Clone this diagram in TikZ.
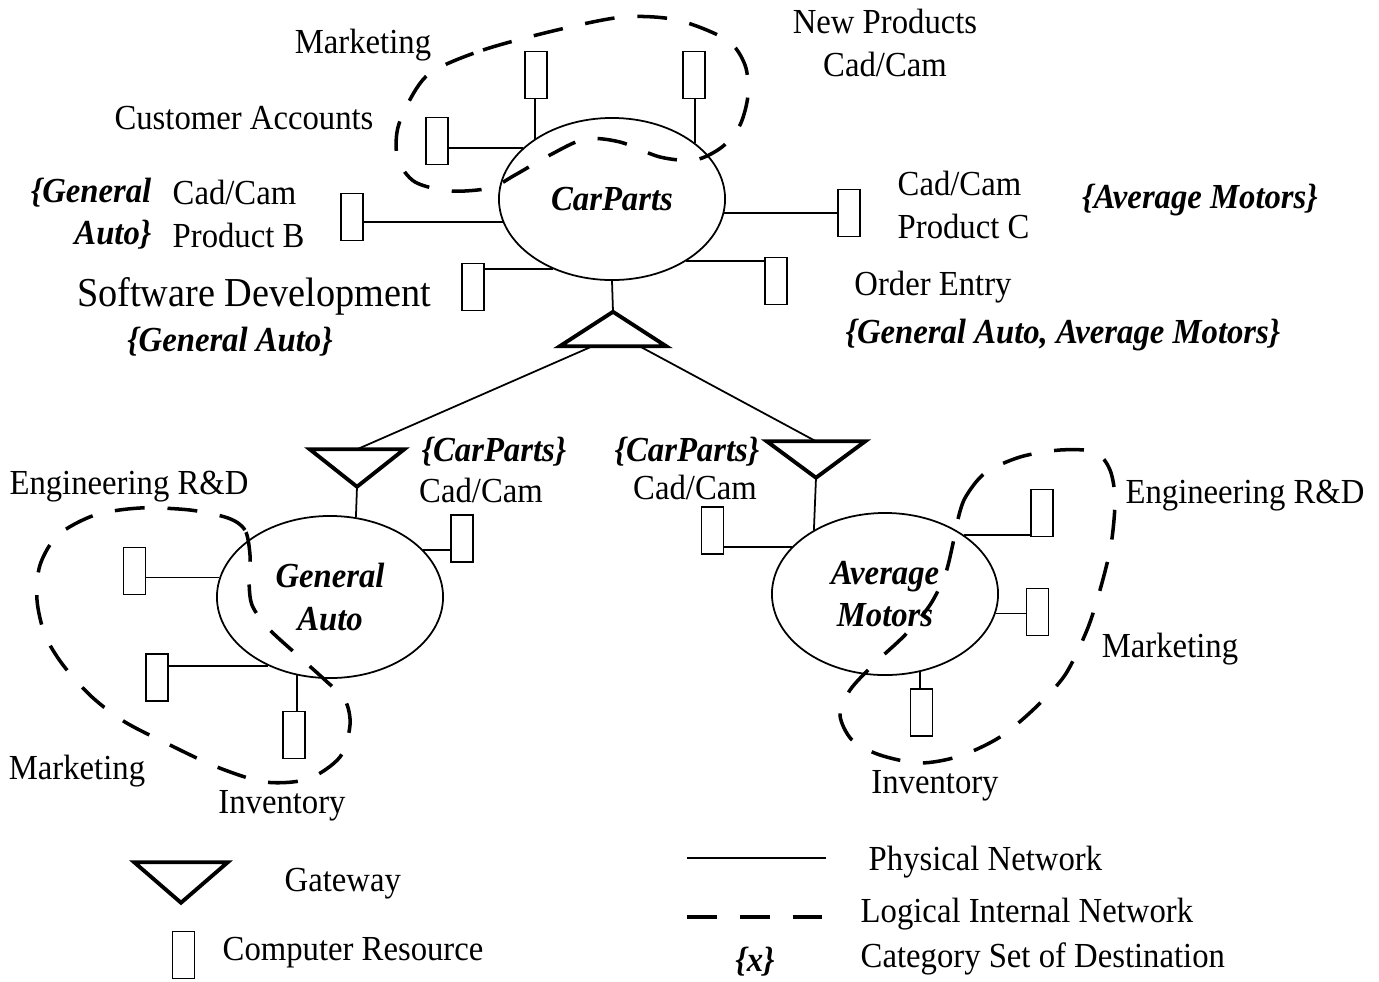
\documentclass[tikz,border=0pt]{standalone}
\usepackage{fontspec}
\setmainfont{Liberation Serif}[FakeStretch=0.93]
\usetikzlibrary{shapes.geometric,positioning}

\begin{document}
\begin{tikzpicture}[x=0.01cm, y=-0.01cm]
\tikzstyle{every node}=[inner sep=0pt];
\tikzstyle{res}=[draw, rectangle, line width=0.45pt, minimum width=0.22cm, minimum height=0.47cm];
\tikzstyle{net}=[draw, ellipse, line width=0.5pt, minimum width=2.26cm, minimum height=1.62cm, align=center, font=\bfseries\itshape];
\tikzstyle{gw}=[line width=1.1pt];
\tikzstyle{gateup}=[minimum width=1.05cm, minimum height=0.33cm, append after command={\pgfextra{\draw[gw] (\tikzlastnode.south west) -- (\tikzlastnode.south east) -- (\tikzlastnode.north) -- cycle;}}];
\tikzstyle{gatedown}=[minimum width=0.95cm, minimum height=0.36cm, append after command={\pgfextra{\draw[gw] (\tikzlastnode.north west) -- (\tikzlastnode.north east) -- (\tikzlastnode.south) -- cycle;}}];
\tikzstyle{link}=[line width=0.5pt];
\tikzstyle{logical}=[line width=1pt, dash pattern=on 8.5pt off 6.5pt];
\tikzstyle{dest}=[font=\bfseries\itshape];
\useasboundingbox (0,0) rectangle (1379,981);

% CarParts
\node (cp) at (612,199) [net]{CarParts};
\node (tg) at (613,329) [gateup]{};
\node (ca) at (437,141) [res]{};
\node (mk) at (536,75) [res]{};
\node (np) at (694,75) [res]{};
\node (pb) at (352,217) [res]{};
\node (sd) at (473,287) [res]{};
\node (pc) at (849,213) [res]{};
\node (oe) at (776,281) [res]{};

\draw[link] (cp.150) -- (cp.150 -| ca.east);
\draw[link] (cp.142) -- (cp.142 |- mk.south);
\draw[link] (cp.34) -- (cp.34 |- np.south);
\draw[link] (cp.-168) -- (cp.-168 -| pb.east);
\draw[link] (cp.-130.6) -- (cp.-130.6 -| sd.east);
\draw[link] (cp.-7.2) -- (cp.-7.2 -| pc.west);
\draw[link] (cp.-40.5) -- (cp.-40.5 -| oe.west);
\draw[link] (cp.south) -- (tg.north);

\node (mktxt) at (363,45) {Marketing};
\node (nptxt) at (885,43) [align=center]{New Products\\Cad/Cam};
\node (catxt) at (244,118) {Customer Accounts};
\node (pbdest) at (152,214) [anchor=east, align=right, dest]{\{General\\Auto\}};
\node (pbtxt) [right=0.2cm of pbdest, align=left]{Cad/Cam\\Product B};
\node (sdtxt) at (254,296) [font=\fontsize{11.7}{14}\selectfont]{Software Development};
\node (sddest) at (230,342) [dest]{\{General Auto\}};
\node (pctxt) at (897,205) [anchor=west, align=left]{Cad/Cam\\Product C};
\node (pcdest) at (1200,200) [dest]{\{Average Motors\}};
\node (oetxt) at (933,287) {Order Entry};
\node (oedest) at (1063,335) [dest]{\{General Auto, Average Motors\}};

\draw[logical] plot[smooth cycle] coordinates {(430,73) (483,50) (557,30) (623,17) (677,20) (727,40) (745,65) (748,95) (740,125) (722,147) (695,160) (660,157) (620,142) (585,139) (550,155) (515,175) (490,188) (450,191) (415,182) (398,160) (397,132) (407,105)};

% General Auto
\node (ga) at (330,597) [net]{General\\Auto};
\node (lg) at (357,468) [gatedown, minimum width=0.93cm]{};
\node (gaer) at (134.5,571) [res]{};
\node (gamk) at (157,677.5) [res]{};
\node (gain) at (294,735) [res]{};
\node (gacc) at (462,538.5) [res]{};

\draw[link] (ga.170.2) -- (ga.170.2 -| gaer.east);
\draw[link] (ga.-132.1) -- (ga.-132.1 -| gamk.east);
\draw[link] (ga.-113.8) -- (ga.-113.8 |- gain.north);
\draw[link] (ga.27.8) -- (ga.27.8 -| gacc.west);
\draw[link] (lg.south) -- (ga.72.4);

\node (gaerlbl) at (129,487) {Engineering R\&D};
\node (gamklbl) at (77,771) {Marketing};
\node (gainlbl) at (282,806) {Inventory};
\node (gadest) at (494,452) [dest]{\{CarParts\}};
\node (gacclbl) at (481,490) {Cad/Cam};

\draw[logical] plot[smooth cycle] coordinates {(250,555) (245,530) (228,518) (190,510) (140,508) (95,515) (58,535) (40,565) (37,600) (45,635) (63,665) (92,697) (125,722) (170,745) (217,767) (265,782) (308,779) (340,757) (350,725) (345,700) (325,680) (295,653) (268,628) (252,605) (249,580)};

% Average Motors
\node (am) at (885,594) [net]{Average\\Motors};
\node (rg) at (816,459.5) [gatedown, minimum width=0.97cm, minimum height=0.35cm]{};
\node (amcc) at (712.5,530.5) [res]{};
\node (amer) at (1042,513) [res]{};
\node (ammk) at (1037.5,612) [res]{};
\node (amin) at (921.5,712.5) [res]{};

\draw[link] (am.153) -- (am.153 -| amcc.east);
\draw[link] (am.37.3) -- (am.37.3 -| amer.west);
\draw[link] (am.-10.9) -- (am.-10.9 -| ammk.west);
\draw[link] (am.-66.9) -- (am.-66.9 |- amin.north);
\draw[link] (rg.south) -- (am.138.4);

\node (amdest) at (687,452) [dest]{\{CarParts\}};
\node (amcclbl) at (695,487) {Cad/Cam};
\node (amerlbl) at (1245,496) {Engineering R\&D};
\node (ammklbl) at (1170,649) {Marketing};
\node (aminlbl) at (935,786) {Inventory};

\draw[logical] plot[smooth cycle] coordinates {(957,523) (965,498) (985,473) (1020,457) (1060,450) (1095,452) (1110,470) (1115,500) (1111,545) (1100,590) (1087,630) (1065,675) (1035,708) (1000,737) (960,756) (920,763) (880,755) (852,740) (840,715) (850,690) (875,663) (905,635) (930,605) (945,575) (952,548)};

% gateways
\draw[link] (tg.-140.5) -- (lg.north);
\draw[link] (tg.-33.4) -- (rg.north);

% legend
\node (lgw) at (181,882.5) [gatedown, minimum width=0.92cm, minimum height=0.39cm]{};
\node (lgwtxt) at (284,884) [anchor=west]{Gateway};
\node (lres) at (183.5,955) [res]{};
\node (lrestxt) at (222,953) [anchor=west]{Computer Resource};
\coordinate (phys1) at (687,858);
\coordinate (phys2) at (826,858);
\draw[link] (phys1) -- (phys2);
\node (phystxt) at (868,862) [anchor=west]{Physical Network};
\coordinate (logi1) at (687,917);
\coordinate (logi2) at (826,917);
\draw[logical] (logi1) -- (logi2);
\node (logitxt) at (860,914) [anchor=west]{Logical Internal Network};
\node (catx) at (755,962) [dest]{\{x\}};
\node (cattxt) at (860,959) [anchor=west]{Category Set of Destination};
\end{tikzpicture}
\end{document}
